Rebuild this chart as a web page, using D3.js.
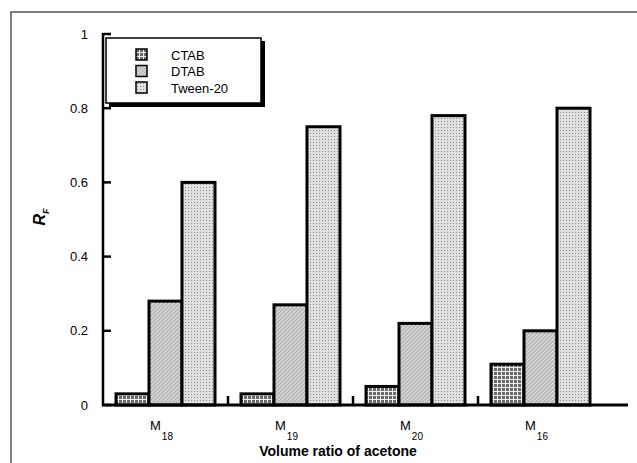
<!DOCTYPE html>
<html>
<head>
<meta charset="utf-8">
<script src="https://cdn.jsdelivr.net/npm/d3@7"></script>
<style>
  body { margin: 0; background: #fff; }
  svg { display: block; font-family: "Liberation Sans", Arial, sans-serif; }
</style>
</head>
<body>
<div id="chart"></div>
<script>
// 数据
const groups = ['18', '19', '20', '16'];
const seriesNames = ['CTAB', 'DTAB', 'Tween-20'];
const ctab = [0.03, 0.03, 0.05, 0.11];
const dtab = [0.28, 0.27, 0.22, 0.20];
const tween = [0.60, 0.75, 0.78, 0.80];
const yTicks = [0, 0.2, 0.4, 0.6, 0.8, 1];

const width = 637, height = 463;
const svg = d3.select('#chart').append('svg')
    .attr('width', width)
    .attr('height', height);

// 填充图案
const defs = svg.append('defs');
const pCtab = defs.append('pattern').attr('id', 'p-ctab')
    .attr('patternUnits', 'userSpaceOnUse').attr('width', 4).attr('height', 4);
pCtab.append('rect').attr('width', 4).attr('height', 4).attr('fill', '#6a6a6a');
pCtab.append('rect').attr('x', 0).attr('y', 3).attr('width', 4).attr('height', 1).attr('fill', '#f0f0f0');
pCtab.append('rect').attr('x', 3).attr('y', 0).attr('width', 1).attr('height', 4).attr('fill', '#f0f0f0');

const pDtab = defs.append('pattern').attr('id', 'p-dtab')
    .attr('patternUnits', 'userSpaceOnUse').attr('width', 4).attr('height', 4);
pDtab.append('rect').attr('width', 4).attr('height', 4).attr('fill', '#cdcdcd');
[[0, 3], [1, 2], [2, 1], [3, 0]].forEach(([px, py], i) => {
    pDtab.append('rect').attr('x', px).attr('y', py)
        .attr('width', 1).attr('height', 1)
        .attr('fill', i % 2 ? '#b4b4b4' : '#a2a2a2');
});
pDtab.append('rect').attr('x', 2).attr('y', 3).attr('width', 1).attr('height', 1).attr('fill', '#e0e0e0');

const pTween = defs.append('pattern').attr('id', 'p-tween')
    .attr('patternUnits', 'userSpaceOnUse').attr('width', 3).attr('height', 3);
pTween.append('rect').attr('width', 3).attr('height', 3).attr('fill', '#e0e0e0');
pTween.append('rect').attr('x', 1).attr('y', 1).attr('width', 1).attr('height', 1).attr('fill', '#8a8a8a');

const fills = ['url(#p-ctab)', 'url(#p-dtab)', 'url(#p-tween)'];

// 外框
svg.append('path')
    .attr('d', `M11,${height + 5}V12H${width + 5}`)
    .attr('fill', 'none')
    .attr('stroke', '#555')
    .attr('stroke-width', 1.5);

// 比例尺
const x0 = d3.scaleBand().domain(groups).range([103, 603]).paddingInner(0);
const x1 = d3.scaleBand().domain(seriesNames).range([13, 112]);
const y = d3.scaleLinear().domain([0, 1]).range([405, 34]);

// 柱子
const rows = groups.map((g, i) => ({ g, vals: [ctab[i], dtab[i], tween[i]] }));
const gGroups = svg.append('g').selectAll('g')
    .data(rows)
    .enter()
    .append('g')
    .attr('transform', d => `translate(${x0(d.g)},0)`);

gGroups.selectAll('rect')
    .data(d => d.vals.map((v, k) => ({ k, v })))
    .enter()
    .append('rect')
    .attr('x', d => x1(seriesNames[d.k]))
    .attr('y', d => y(d.v))
    .attr('width', x1.bandwidth())
    .attr('height', d => y(0) - y(d.v))
    .attr('fill', d => fills[d.k])
    .attr('stroke', '#000')
    .attr('stroke-width', 3);

// Y 轴
const yAxis = svg.append('g');
yAxis.append('line')
    .attr('x1', 103).attr('x2', 103)
    .attr('y1', y(1) - 1).attr('y2', y(0) + 1)
    .attr('stroke', '#000').attr('stroke-width', 2.5);
yAxis.selectAll('.tick')
    .data(yTicks)
    .enter()
    .append('line')
    .attr('x1', 103).attr('x2', 111)
    .attr('y1', d => y(d)).attr('y2', d => y(d))
    .attr('stroke', '#000').attr('stroke-width', 2.5);
yAxis.selectAll('text')
    .data(yTicks)
    .enter()
    .append('text')
    .attr('x', 88)
    .attr('y', d => y(d))
    .attr('dy', '0.35em')
    .attr('text-anchor', 'end')
    .style('font-size', '13px')
    .text(d => d3.format('~g')(d));

// X 轴
svg.append('line')
    .attr('x1', 102).attr('x2', 628)
    .attr('y1', y(0)).attr('y2', y(0))
    .attr('stroke', '#000').attr('stroke-width', 3);
svg.selectAll('.xtick')
    .data(groups.slice(1))
    .enter()
    .append('line')
    .attr('x1', d => x0(d)).attr('x2', d => x0(d))
    .attr('y1', y(0)).attr('y2', y(0) - 9)
    .attr('stroke', '#000').attr('stroke-width', 2.5);

const xLabels = svg.selectAll('.xlabel')
    .data(groups)
    .enter()
    .append('text')
    .attr('x', d => x0(d) + x0.bandwidth() / 2 - 4)
    .attr('y', 430)
    .attr('text-anchor', 'middle')
    .style('font-size', '13px');
xLabels.append('tspan').text('M');
xLabels.append('tspan')
    .attr('dx', 1).attr('dy', 10)
    .style('font-size', '10px')
    .text(d => d);

svg.append('text')
    .attr('x', 338)
    .attr('y', 456)
    .attr('text-anchor', 'middle')
    .style('font-size', '14px')
    .style('font-weight', 'bold')
    .text('Volume ratio of acetone');

const yTitle = svg.append('text')
    .attr('transform', 'translate(45,217) rotate(-90)')
    .attr('text-anchor', 'middle')
    .style('font-size', '16px')
    .style('font-weight', 'bold')
    .style('font-style', 'italic');
yTitle.append('tspan').text('R');
yTitle.append('tspan').attr('dy', 4).style('font-size', '9px').text('F');

// 图例
const legend = svg.append('g');
legend.append('rect')
    .attr('x', 109).attr('y', 41)
    .attr('width', 156).attr('height', 66)
    .attr('fill', '#000');
legend.append('rect')
    .attr('x', 106).attr('y', 38)
    .attr('width', 155).attr('height', 65)
    .attr('fill', '#fff')
    .attr('stroke', '#000')
    .attr('stroke-width', 1.5);

const legendItems = legend.selectAll('.item')
    .data(seriesNames)
    .enter()
    .append('g')
    .attr('transform', (d, i) => `translate(136,${49 + i * 16.5})`);
legendItems.append('rect')
    .attr('width', 11).attr('height', 11)
    .attr('fill', (d, i) => fills[i])
    .attr('stroke', '#000')
    .attr('stroke-width', 1.5);
legendItems.append('text')
    .attr('x', 35)
    .attr('y', 6)
    .attr('dy', '0.35em')
    .style('font-size', '13px')
    .text(d => d);
</script>
</body>
</html>
